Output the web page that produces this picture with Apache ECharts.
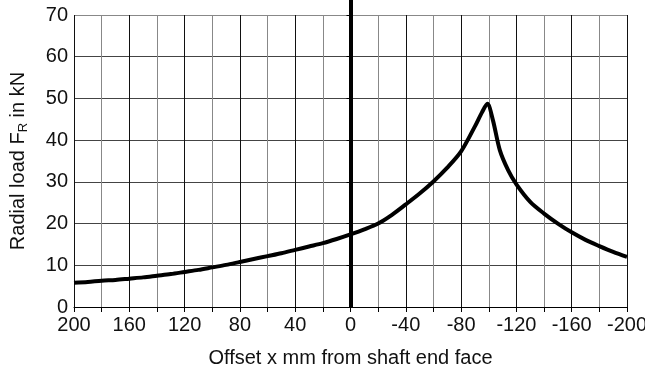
<!DOCTYPE html>
<html>
<head>
<meta charset="utf-8">
<script src="https://cdn.jsdelivr.net/npm/echarts@6/dist/echarts.min.js"></script>
<style>
	html, body { margin: 0; padding: 0; background: #fff; }
	#chart { width: 645px; height: 372px; }
</style>
</head>
<body>
<div id="chart"></div>
<script>
// offset x in mm, ascending (axis is drawn reversed: +200 on the left)
var offsetX = [-200, -190, -180, -170, -160, -150, -140, -130, -120, -114, -108, -103, -99, -95, -90, -80, -70, -60, -50, -40,
	-30, -20, -10, 0, 10, 20, 30, 40, 50, 60, 70, 80, 90, 100, 110, 120, 130, 140, 150, 160, 170, 180, 190, 200];
// radial load F_R in kN
var radialLoad = [12.0, 13.2, 14.6, 16.1, 17.9, 20.0, 22.4, 25.2, 29.4, 32.8, 37.6, 44.8, 48.7, 46.6, 43.3, 37.3, 33.4, 30.1, 27.2, 24.6,
	22.1, 20.0, 18.6, 17.4, 16.3, 15.3, 14.5, 13.7, 12.9, 12.2, 11.5, 10.8, 10.1, 9.5, 8.9, 8.4, 7.9, 7.5, 7.1, 6.8, 6.5, 6.3, 6.0, 5.8];

var font = "'Liberation Sans', Arial, sans-serif";

var points = [];
for (var i = 0; i < offsetX.length; i++) {
	points.push([offsetX[i], radialLoad[i]]);
}

var chart = echarts.init(document.getElementById('chart'));
chart.setOption({
	animation: false,
	grid: { left: 74, right: 18, top: 15, bottom: 65, outerBoundsMode: 'none' },
	xAxis: {
		type: 'value',
		inverse: true,
		min: -200,
		max: 200,
		interval: 20,
		name: 'Offset x mm from shaft end face',
		nameLocation: 'middle',
		nameGap: 41,
		nameTextStyle: { fontFamily: font, fontSize: 20, color: '#111' },
		axisLine: { show: true, lineStyle: { color: '#000', width: 1 } },
		axisTick: { show: true, length: 5, lineStyle: { color: '#000' } },
		axisLabel: {
			fontFamily: font, fontSize: 20, color: '#111', margin: 8,
			formatter: function (v) { return v % 40 === 0 ? String(v) : ''; }
		},
		splitLine: { show: true, lineStyle: { color: ['#111', '#888'], width: 1 } }
	},
	yAxis: {
		type: 'value',
		min: 0,
		max: 70,
		interval: 10,
		name: 'Radial load F{sub|R} in kN',
		nameLocation: 'middle',
		nameGap: 44,
		nameTextStyle: {
			fontFamily: font, fontSize: 20, color: '#111', lineHeight: 24,
			rich: {
				sub: { fontFamily: font, fontSize: 13, color: '#111', verticalAlign: 'bottom', lineHeight: 14 }
			}
		},
		axisLine: { show: true, lineStyle: { color: '#000', width: 1 } },
		axisTick: { show: true, length: 4, lineStyle: { color: '#000' } },
		axisLabel: { fontFamily: font, fontSize: 20, color: '#111', margin: 6 },
		splitLine: {
			show: true,
			lineStyle: { color: ['#000', '#444', '#444', '#444', '#444', '#444', '#444', '#888'], width: 1 }
		}
	},
	series: [{
		type: 'line',
		data: points,
		smooth: 0.3,
		symbol: 'none',
		lineStyle: { color: '#000', width: 4 },
		markLine: {
			silent: true,
			symbol: 'none',
			label: { show: false },
			lineStyle: { color: '#000', width: 4, type: 'solid' },
			data: [[{ coord: [0, 0] }, { coord: [0, 70], y: 0 }]]
		},
		z: 3
	}]
});
</script>
</body>
</html>
